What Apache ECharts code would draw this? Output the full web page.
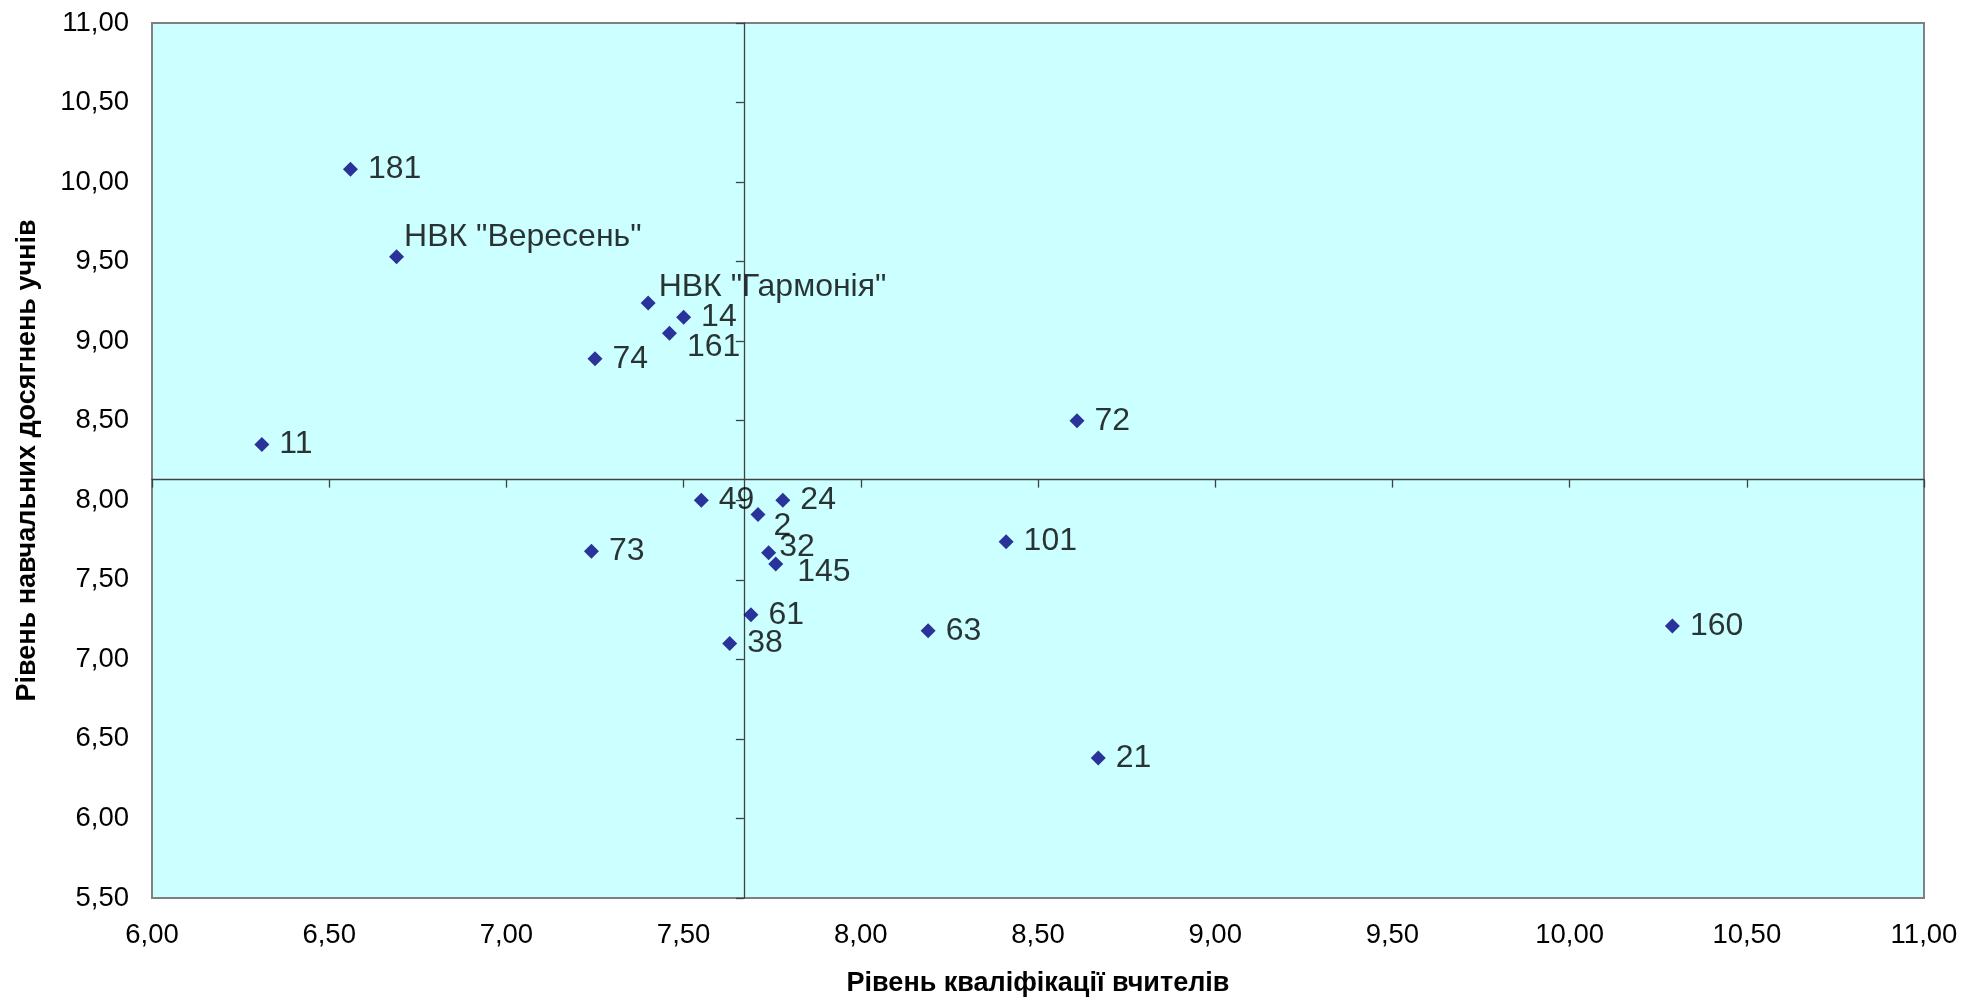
<!DOCTYPE html>
<html>
<head>
<meta charset="utf-8">
<script src="https://cdn.jsdelivr.net/npm/echarts@6/dist/echarts.min.js"></script>
<style>
  html, body { margin: 0; padding: 0; background: #ffffff; }
  #chart { width: 1962px; height: 1000px; }
</style>
</head>
<body>
<div id="chart"></div>
<script>
// ---- Data ----
const schoolNames = ['181', 'НВК "Вересень"', 'НВК "Гармонія"', '14', '161', '74', '11', '72',
  '49', '24', '2', '73', '32', '145', '101', '61', '38', '63', '160', '21'];
const teacherLevel = [6.56, 6.69, 7.40, 7.50, 7.46, 7.25, 6.31, 8.61,
  7.55, 7.78, 7.71, 7.24, 7.74, 7.76, 8.41, 7.69, 7.63, 8.19, 10.29, 8.67];
const studentLevel = [10.08, 9.53, 9.24, 9.15, 9.05, 8.89, 8.35, 8.50,
  8.00, 8.00, 7.91, 7.68, 7.67, 7.60, 7.74, 7.28, 7.10, 7.18, 7.21, 6.38];
// average levels where the quadrant lines cross
const crossX = 7.67;
const crossY = 8.13;
// axis ranges
const xMin = 6, xMax = 11, xStep = 0.5;
const yMin = 5.5, yMax = 11, yStep = 0.5;
const xAxisTitle = 'Рівень кваліфікації вчителів';
const yAxisTitle = 'Рівень навчальних досягнень учнів';

// ---- Label placement tweaks (styling only) ----
const labelShift = {
  'НВК "Вересень"': [-10, -20],
  'НВК "Гармонія"': [-7, -16],
  '2': [-2, 12],
  '32': [-7, -6],
  '145': [4, 8],
  '161': [0, 14]
};

const FONT = 'Arial, "Liberation Sans", sans-serif';
const fmt = v => v.toFixed(2).replace('.', ',');

const points = schoolNames.map((n, i) => {
  const item = { name: n, value: [teacherLevel[i], studentLevel[i]] };
  if (labelShift[n]) item.label = { offset: labelShift[n] };
  return item;
});

const chart = echarts.init(document.getElementById('chart'), null, { renderer: 'canvas' });
chart.setOption({
  animation: false,
  backgroundColor: '#ffffff',
  grid: {
    left: 152, right: 38, top: 23, bottom: 102,
    containLabel: false,
    outerBoundsMode: 'none',
    show: true,
    backgroundColor: '#CCFFFF',
    borderColor: '#808080',
    borderWidth: 2
  },
  xAxis: [
    {
      type: 'value', min: xMin, max: xMax, interval: xStep, position: 'bottom',
      axisLine: { show: false }, axisTick: { show: false }, splitLine: { show: false },
      axisLabel: { formatter: fmt, color: '#000', fontFamily: FONT, fontSize: 27.5, margin: 23 },
      name: xAxisTitle, nameLocation: 'middle', nameGap: 72,
      nameTextStyle: { fontFamily: FONT, fontSize: 27, fontWeight: 'bold', color: '#000' }
    },
    {
      type: 'value', min: xMin, max: xMax, interval: xStep, position: 'bottom',
      axisLine: { show: true, onZero: true, onZeroAxisIndex: 1, lineStyle: { color: '#404040', width: 1.3 } },
      axisTick: { show: true, inside: false, length: 8, lineStyle: { color: '#404040', width: 1.3 } },
      axisLabel: { show: false }, splitLine: { show: false }
    },
    {
      type: 'value', min: xMin - crossX, max: xMax - crossX, show: false,
      axisLine: { show: false }, axisTick: { show: false }, axisLabel: { show: false }, splitLine: { show: false }
    }
  ],
  yAxis: [
    {
      type: 'value', min: yMin, max: yMax, interval: yStep, position: 'left',
      axisLine: { show: false }, axisTick: { show: false }, splitLine: { show: false },
      axisLabel: { formatter: fmt, color: '#000', fontFamily: FONT, fontSize: 27.5, margin: 23 },
      name: yAxisTitle, nameLocation: 'middle', nameGap: 111, nameRotate: 90,
      nameTextStyle: { fontFamily: FONT, fontSize: 27, fontWeight: 'bold', color: '#000' }
    },
    {
      type: 'value', min: yMin - crossY, max: yMax - crossY, show: false,
      axisLine: { show: false }, axisTick: { show: false }, axisLabel: { show: false }, splitLine: { show: false }
    },
    {
      type: 'value', min: yMin, max: yMax, interval: yStep, position: 'left',
      axisLine: { show: true, onZero: true, onZeroAxisIndex: 2, lineStyle: { color: '#404040', width: 1.3 } },
      axisTick: { show: true, inside: false, length: 8, lineStyle: { color: '#404040', width: 1.3 } },
      axisLabel: { show: false }, splitLine: { show: false }
    }
  ],
  series: [
    {
      type: 'scatter',
      xAxisIndex: 0, yAxisIndex: 0,
      symbol: 'diamond', symbolSize: 15,
      itemStyle: { color: '#000080' },
      label: {
        show: true, position: 'right', distance: 10,
        formatter: p => p.name,
        color: '#000', fontFamily: FONT, fontSize: 32
      },
      data: points,
      z: 5
    }
  ]
});
</script>
</body>
</html>
